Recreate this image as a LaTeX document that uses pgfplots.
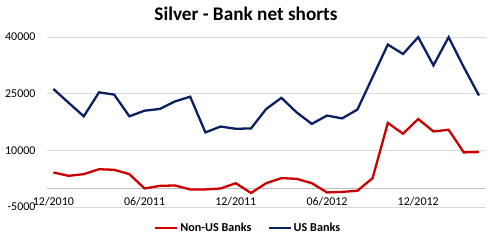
\documentclass[border=0pt]{standalone}
\usepackage{pgfplots}
\pgfplotsset{compat=1.18}
\usepackage{fontspec}
\setmainfont{Carlito}
\definecolor{redline}{HTML}{CC0000}
\definecolor{blueline}{HTML}{0B1F63}
\definecolor{gridc}{HTML}{D9D9D9}
\definecolor{zeroc}{HTML}{BFBFBF}
\begin{document}
\begin{tikzpicture}[x=1bp,y=1bp]
\path[use as bounding box] (0,0) rectangle (490,240);
\node[font=\fontsize{19.3}{22}\selectfont\bfseries] at (246,226) {Silver - Bank net shorts};
\begin{axis}[
  at={(47bp,33bp)}, anchor=south west,
  scale only axis, width=439bp, height=170bp,
  xmin=-0.42, xmax=28.46, ymin=-5000, ymax=40000,
  scaled y ticks=false,
  axis line style={draw=none},
  tick style={draw=none},
  ytick={-5000,10000,25000,40000},
  yticklabels={-5000,10000,25000,40000},
  extra y ticks={0}, extra y tick labels={},
  extra y tick style={grid style={zeroc, line width=1bp}},
  ymajorgrids, grid style={gridc, line width=1bp},
  xtick={0,6,12,18,24},
  xticklabels={12/2010,06/2011,12/2011,06/2012,12/2012},
  ticklabel style={font=\fontsize{12}{14}\selectfont},
  yticklabel style={anchor=east, xshift=-8bp},
  xticklabel style={anchor=north, yshift=13bp},
  clip=false,
  legend columns=2,
  legend style={draw=none, fill=none, at={(0.458,-0.124)}, anchor=center,
    font=\fontsize{12.2}{14}\selectfont\bfseries, /tikz/every even column/.append style={column sep=14bp},
    inner sep=0pt},
  legend image code/.code={\draw[#1] (0bp,0bp) -- (22bp,0bp);},
]
\addplot[redline, line width=2.3bp] coordinates {
(0,4150)(1,3250)(2,3700)(3,5000)(4,4850)(5,3700)(6,-100)(7,600)(8,700)(9,-350)
(10,-350)(11,-100)(12,1300)(13,-1300)(14,1300)(15,2650)(16,2450)(17,1300)(18,-1150)(19,-1000)
(20,-700)(21,2650)(22,17250)(23,14400)(24,18300)(25,15000)(26,15450)(27,9450)(28,9550)};
\addlegendentry{Non-US Banks}
\addplot[blueline, line width=2.3bp] coordinates {
(0,26250)(1,22600)(2,19000)(3,25350)(4,24750)(5,19000)(6,20500)(7,20950)(8,22950)(9,24200)
(10,14750)(11,16300)(12,15700)(13,15800)(14,20950)(15,23900)(16,20050)(17,17000)(18,19200)(19,18450)
(20,20800)(21,29400)(22,38000)(23,35500)(24,39950)(25,32500)(26,39950)(27,32000)(28,24500)};
\addlegendentry{US Banks}
\end{axis}
\end{tikzpicture}
\end{document}
